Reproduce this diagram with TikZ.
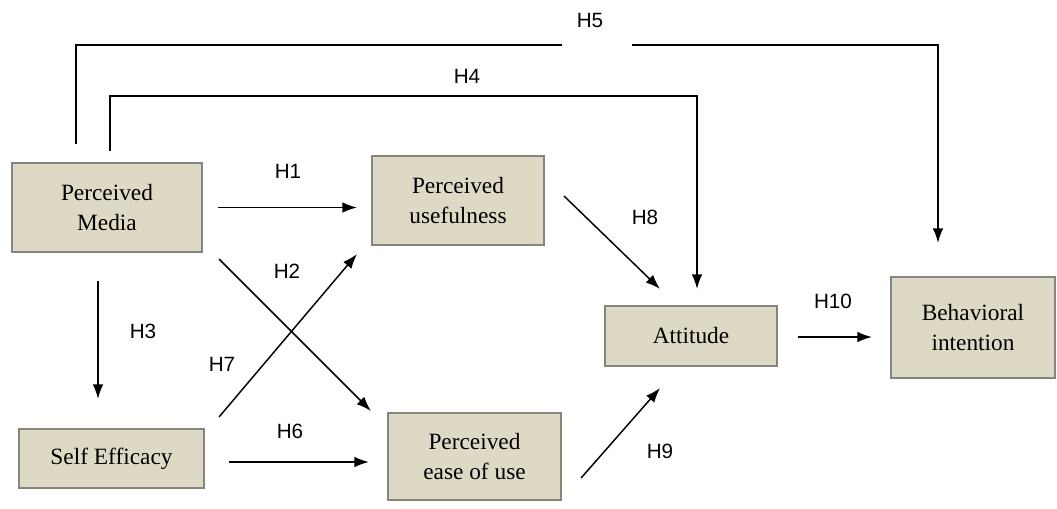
\documentclass[tikz,border=0pt]{standalone}
\usepackage{fontspec}
\setmainfont{Liberation Serif}
\setsansfont{Liberation Sans}
\usetikzlibrary{calc,arrows.meta}
\definecolor{boxfill}{HTML}{DDD9C4}
\definecolor{boxline}{HTML}{85857D}
\begin{document}
\begin{tikzpicture}[x=0.75pt,y=-0.75pt,
  construct/.style={draw=boxline,line width=1.6pt,fill=boxfill,align=center,
    inner sep=0pt,font=\fontsize{17.5}{22}\selectfont},
  link/.style={line width=1.1pt,-{Latex[length=11pt,width=8pt]}},
  plain/.style={line width=1.1pt},
  hyp/.style={font=\sffamily\fontsize{15.5}{18}\selectfont}]
\useasboundingbox (0,0) rectangle (1057,508);
% constructs
\node[construct,minimum width=190*0.75pt,minimum height=89*0.75pt] (pm) at (107,207.5) {Perceived\\Media};
\node[construct,minimum width=172*0.75pt,minimum height=89*0.75pt] (pu) at (458,200.5) {Perceived\\usefulness};
\node[construct,minimum width=172*0.75pt,minimum height=60*0.75pt] (att) at (691,336) {Attitude};
\node[construct,minimum width=164*0.75pt,minimum height=101*0.75pt] (bi) at (973,327.5) {Behavioral\\intention};
\node[construct,minimum width=185*0.75pt,minimum height=59*0.75pt] (se) at (111.5,458.5) {Self Efficacy};
\node[construct,minimum width=173*0.75pt,minimum height=87*0.75pt] (peou) at (474.5,456.5) {Perceived\\ease of use};
% direct paths
\draw[link] ($(pm.east)+(15,0)$) -- ($(pu.west)+(-14,7)$);
\draw[link] ($(pm.south east)+(16,6)$) -- ($(peou.north west)+(-16,-1)$);
\draw[link] ($(se.north east)+(14,-11)$) -- ($(pu.south west)+(-14,8)$);
\draw[link] ($(pm.south)+(-9,28)$) -- ($(se.north)+(-13.5,-29)$);
\draw[link] ($(se.east)+(24,3.5)$) -- ($(peou.west)+(-18,5.5)$);
\draw[link] ($(pu.south east)+(19,-50)$) -- ($(att.north)+(-31,-16)$);
\draw[link] ($(peou.east)+(19,21.5)$) -- ($(att.south)+(-31,21)$);
\draw[link] ($(att.east)+(20,1)$) -- ($(bi.west)+(-18,9.5)$);
% paths over the top
\coordinate (h4top) at (110,96);
\draw[link] ($(pm.north)+(3,-11)$) |- (h4top) -| ($(att.north)+(6,-16)$);
\coordinate (h5left) at (562,45);
\coordinate (h5right) at (632,45);
\draw[plain] ($(pm.north)+(-31,-18)$) |- (h5left);
\draw[link] (h5right) -| ($(bi.north)+(-35,-33)$);
% hypothesis labels
\node[hyp] (l1) at (288,171) {H1};
\node[hyp] (l2) at (287,271) {H2};
\node[hyp] (l3) at (143,331) {H3};
\node[hyp] (l4) at (467,76) {H4};
\node[hyp] (l5) at (590,20) {H5};
\node[hyp] (l6) at (290,431) {H6};
\node[hyp] (l7) at (222,364) {H7};
\node[hyp] (l8) at (645,217) {H8};
\node[hyp] (l9) at (660,451) {H9};
\node[hyp] (l10) at (833,301) {H10};
\end{tikzpicture}
\end{document}
